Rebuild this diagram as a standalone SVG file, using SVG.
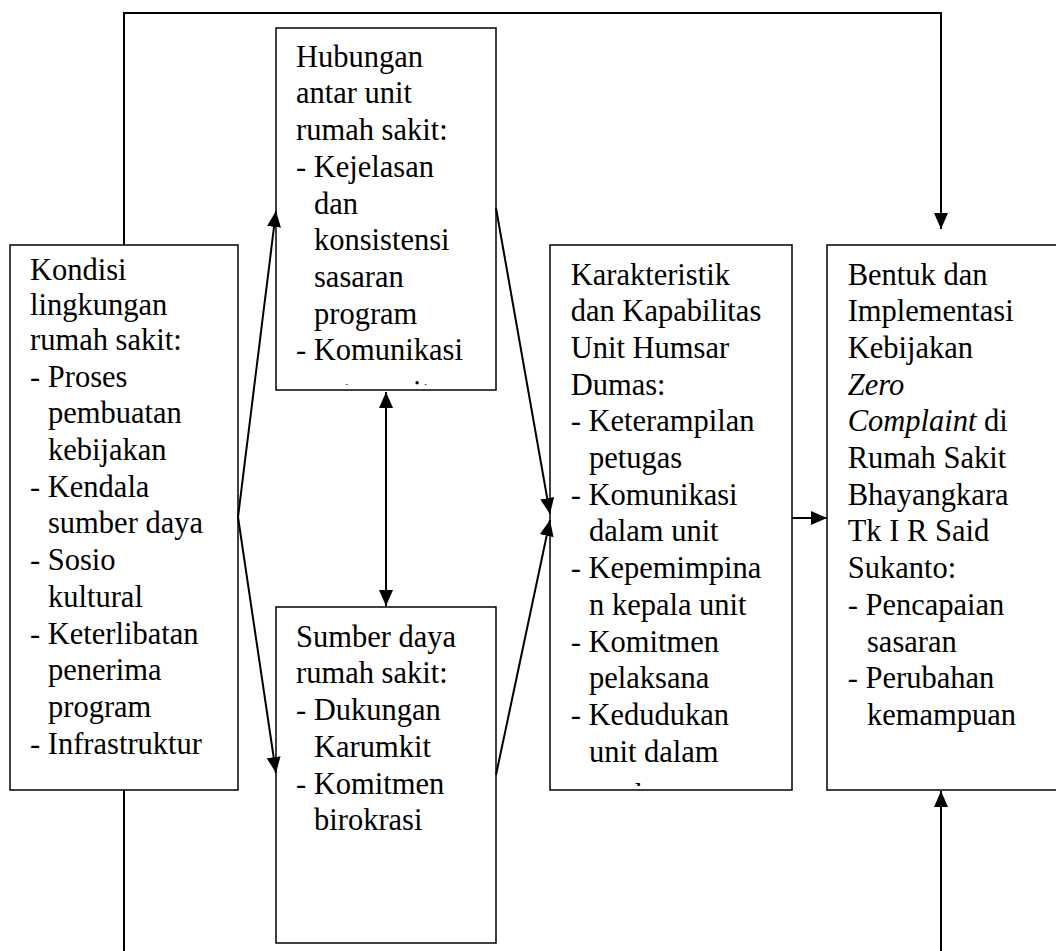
<svg xmlns="http://www.w3.org/2000/svg" width="1056" height="951" viewBox="0 0 1056 951">
  <style>
    .box { fill: none; stroke: #000; stroke-width: 1.5; }
    .t { font-family: "Liberation Serif", "Times New Roman", serif; font-size: 30.5px; fill: #000; }
    .i { font-style: italic; }
    .c { fill: none; stroke: #000; stroke-width: 2; }
  </style>
  <defs>
    <marker id="ah" viewBox="0 0 16 14" refX="16" refY="7" markerWidth="16" markerHeight="14" markerUnits="userSpaceOnUse" orient="auto-start-reverse">
      <path d="M0,0 L16,7 L0,14 z" fill="#000"/>
    </marker>
    <clipPath id="clipHub"><rect x="276" y="28" width="220" height="357"/></clipPath>
    <clipPath id="clipKar"><rect x="550" y="245" width="242" height="541"/></clipPath>
  </defs>
  <rect width="1056" height="951" fill="#fff"/>

  <g id="connectors">
    <polyline class="c" points="124,245 124,13 941,13 941,229" marker-end="url(#ah)"/>
    <line class="c" x1="238" y1="517" x2="276" y2="211" marker-end="url(#ah)"/>
    <line class="c" x1="238" y1="517" x2="276" y2="773" marker-end="url(#ah)"/>
    <line class="c" x1="496" y1="208" x2="550" y2="514" marker-end="url(#ah)"/>
    <line class="c" x1="496" y1="775" x2="550" y2="520" marker-end="url(#ah)"/>
    <line class="c" x1="386" y1="392" x2="386" y2="606" marker-start="url(#ah)" marker-end="url(#ah)"/>
    <line class="c" x1="792" y1="518" x2="827" y2="518" marker-end="url(#ah)"/>
    <polyline class="c" points="124,790 124,975 941,975 941,791" marker-end="url(#ah)"/>
  </g>

  <g id="kondisi">
    <rect class="box" x="10" y="245" width="228" height="545"/>
    <text class="t">
      <tspan x="30" y="280">Kondisi</tspan>
      <tspan x="30" y="315">lingkungan</tspan>
      <tspan x="30" y="349.9">rumah sakit:</tspan>
      <tspan x="30" y="386.6">- Proses</tspan>
      <tspan x="48" y="423.3">pembuatan</tspan>
      <tspan x="48" y="460">kebijakan</tspan>
      <tspan x="30" y="496.7">- Kendala</tspan>
      <tspan x="48" y="533.4">sumber daya</tspan>
      <tspan x="30" y="570.1">- Sosio</tspan>
      <tspan x="48" y="606.8">kultural</tspan>
      <tspan x="30" y="643.5">- Keterlibatan</tspan>
      <tspan x="48" y="680.2">penerima</tspan>
      <tspan x="48" y="716.9">program</tspan>
      <tspan x="30" y="753.6">- Infrastruktur</tspan>
    </text>
  </g>

  <g id="hubungan">
    <rect class="box" x="276" y="28" width="220" height="362"/>
    <text class="t" clip-path="url(#clipHub)">
      <tspan x="296" y="66.7">Hubungan</tspan>
      <tspan x="296" y="103.4">antar unit</tspan>
      <tspan x="296" y="140.1">rumah sakit:</tspan>
      <tspan x="296" y="176.8">- Kejelasan</tspan>
      <tspan x="314" y="213.5">dan</tspan>
      <tspan x="314" y="250.2">konsistensi</tspan>
      <tspan x="314" y="286.9">sasaran</tspan>
      <tspan x="314" y="323.6">program</tspan>
      <tspan x="296" y="360.3">- Komunikasi</tspan>
      <tspan x="314" y="402">antar unit</tspan>
    </text>
  </g>

  <g id="sumber">
    <rect class="box" x="276" y="607" width="220" height="336"/>
    <text class="t">
      <tspan x="296" y="646.7">Sumber daya</tspan>
      <tspan x="296" y="683.4">rumah sakit:</tspan>
      <tspan x="296" y="720.1">- Dukungan</tspan>
      <tspan x="314" y="756.8">Karumkit</tspan>
      <tspan x="296" y="793.5">- Komitmen</tspan>
      <tspan x="314" y="830.2">birokrasi</tspan>
    </text>
  </g>

  <g id="karakteristik">
    <rect class="box" x="550" y="245" width="242" height="545"/>
    <text class="t" clip-path="url(#clipKar)">
      <tspan x="570.7" y="284.5">Karakteristik</tspan>
      <tspan x="570.7" y="321.2">dan Kapabilitas</tspan>
      <tspan x="570.7" y="357.9">Unit Humsar</tspan>
      <tspan x="570.7" y="394.6">Dumas:</tspan>
      <tspan x="570.7" y="431.3">- Keterampilan</tspan>
      <tspan x="589" y="468">petugas</tspan>
      <tspan x="570.7" y="504.7">- Komunikasi</tspan>
      <tspan x="589" y="541.4">dalam unit</tspan>
      <tspan x="570.7" y="578.1">- Kepemimpina</tspan>
      <tspan x="589" y="614.8">n kepala unit</tspan>
      <tspan x="570.7" y="651.5">- Komitmen</tspan>
      <tspan x="589" y="688.2">pelaksana</tspan>
      <tspan x="570.7" y="724.9">- Kedudukan</tspan>
      <tspan x="589" y="761.6">unit dalam</tspan>
      <tspan x="589" y="805">struktur</tspan>
    </text>
  </g>

  <g id="bentuk">
    <rect class="box" x="827" y="245" width="240" height="545"/>
    <text class="t">
      <tspan x="847.7" y="284.5">Bentuk dan</tspan>
      <tspan x="847.7" y="321.2">Implementasi</tspan>
      <tspan x="847.7" y="357.9">Kebijakan</tspan>
      <tspan x="847.7" y="394.6" class="i">Zero</tspan>
      <tspan x="847.7" y="431.3" class="i">Complaint</tspan><tspan> di</tspan>
      <tspan x="847.7" y="468">Rumah Sakit</tspan>
      <tspan x="847.7" y="504.7">Bhayangkara</tspan>
      <tspan x="847.7" y="541.4">Tk I R Said</tspan>
      <tspan x="847.7" y="578.1">Sukanto:</tspan>
      <tspan x="847.7" y="614.8">- Pencapaian</tspan>
      <tspan x="867" y="651.5">sasaran</tspan>
      <tspan x="847.7" y="688.2">- Perubahan</tspan>
      <tspan x="867" y="724.9">kemampuan</tspan>
    </text>
  </g>
</svg>
